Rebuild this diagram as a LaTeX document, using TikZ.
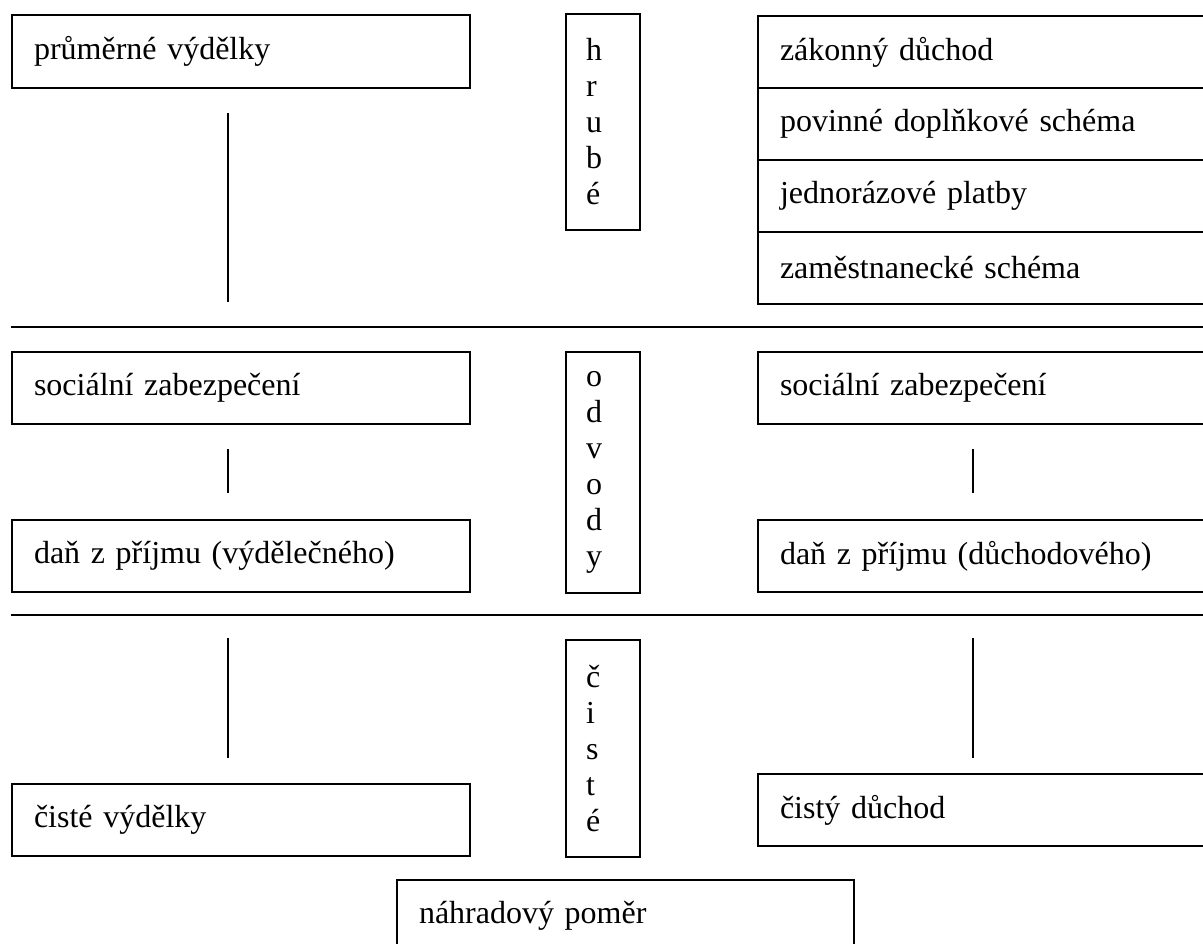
\documentclass[tikz,border=0pt]{standalone}
\usepackage{fontspec}
\setmainfont{Liberation Serif}

\begin{document}
\begin{tikzpicture}[x=.5pt,y=-.5pt,
    every node/.style={font=\fontsize{16}{18}\selectfont},
    cellbox/.style={draw, line width=1pt, anchor=north west, minimum height=36pt,
      text width=207pt, inner xsep=11pt, inner ysep=0pt, align=left},
    colbox/.style={draw, line width=1pt, anchor=north west, text width=17pt,
      inner xsep=10pt, inner ysep=0pt, align=left},
    link/.style={line width=.9pt}]
  \clip (0,0) rectangle (1203,943);

  \node[cellbox, minimum height=36.5pt] (avg) at (11,14) {průměrné výdělky};
  \node[cellbox] (soc1) at (11,351) {sociální zabezpečení};
  \node[cellbox] (dan1) at (11,519) {daň z příjmu (výdělečného)};
  \node[cellbox] (cv) at (11,783) {čisté výdělky};

  \node[colbox, minimum height=108pt] (hrube) at (565,13) {h\\r\\u\\b\\é};
  \node[colbox, minimum height=120.5pt] (odvody) at (565,351) {o\\d\\v\\o\\d\\y};
  \node[colbox, minimum height=108.5pt] (ciste) at (565,639) {č\\i\\s\\t\\é};

  \node[cellbox] (zak) at (757,15) {zákonný důchod};
  \node[cellbox] (pov) at (757,87) {povinné doplňkové schéma};
  \node[cellbox] (jed) at (757,159) {jednorázové platby};
  \node[cellbox] (zam) at (757,231) {zaměstnanecké schéma};
  \node[cellbox] (soc2) at (757,351) {sociální zabezpečení};
  \node[cellbox] (dan2) at (757,519) {daň z příjmu (důchodového)};
  \node[cellbox] (cd) at (757,773) {čistý důchod};

  \node[cellbox, text width=206.5pt] (nah) at (396,879) {náhradový poměr};

  \coordinate (s1w) at (11,327);
  \coordinate (s1e) at (1203,327);
  \coordinate (s2w) at (11,615);
  \coordinate (s2e) at (1203,615);
  \draw[line width=1pt] (s1w) -- (s1e);
  \draw[line width=1pt] (s2w) -- (s2e);

  \draw[link, shorten <=12pt, shorten >=12.5pt]
    ([xshift=108.5pt]avg.south west) -- ([xshift=108.5pt]avg.south west |- s1w);
  \draw[link, shorten <=12pt, shorten >=13pt]
    ([xshift=108.5pt]soc1.south west) -- ([xshift=108.5pt]dan1.north west);
  \draw[link, shorten <=11.5pt, shorten >=12.5pt]
    ([xshift=108.5pt]cv.north west |- s2w) -- ([xshift=108.5pt]cv.north west);
  \draw[link, shorten <=12pt, shorten >=13pt]
    ([xshift=108pt]soc2.south west) -- ([xshift=108pt]dan2.north west);
  \draw[link, shorten <=11.5pt, shorten >=7.5pt]
    ([xshift=108pt]cd.north west |- s2w) -- ([xshift=108pt]cd.north west);
\end{tikzpicture}
\end{document}
